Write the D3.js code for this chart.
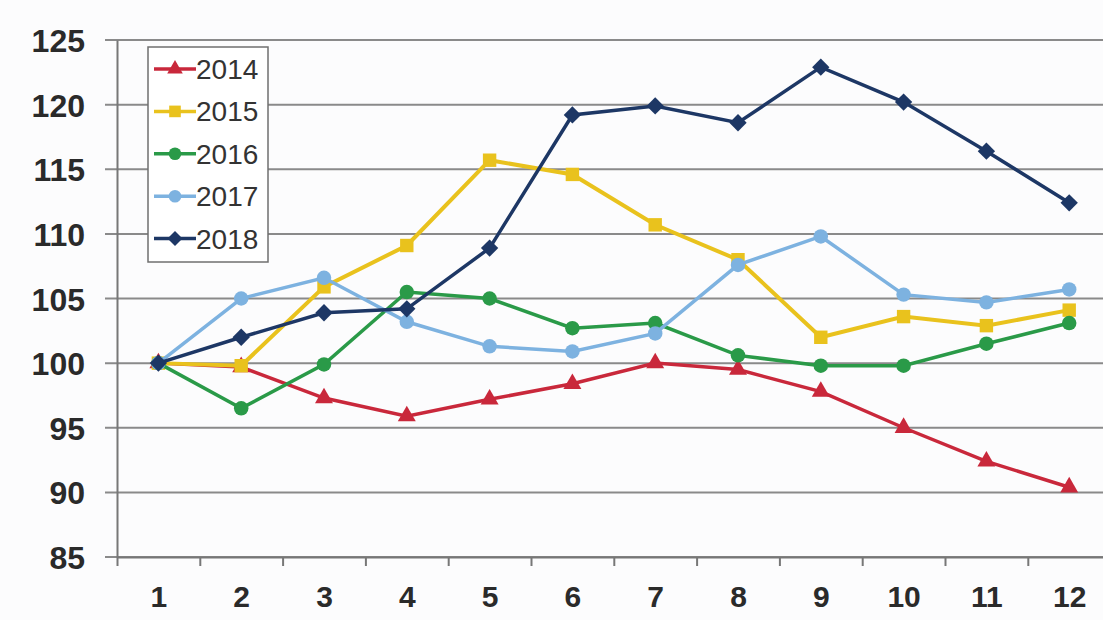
<!DOCTYPE html>
<html>
<head>
<meta charset="utf-8">
<script src="https://cdn.jsdelivr.net/npm/d3@7"></script>
<style>
  body { margin: 0; background: #fcfcfd; }
  svg { display: block; font-family: "Liberation Sans", Arial, sans-serif; }
</style>
</head>
<body>
<div id="chart"></div>
<script>
var months = [1, 2, 3, 4, 5, 6, 7, 8, 9, 10, 11, 12];
var years = ["2014", "2015", "2016", "2017", "2018"];
var yTicks = [85, 90, 95, 100, 105, 110, 115, 120, 125];

var v2014 = [100, 99.7, 97.3, 95.9, 97.2, 98.4, 100.0, 99.5, 97.8, 95.0, 92.4, 90.4];
var v2015 = [100, 99.8, 105.9, 109.1, 115.7, 114.6, 110.7, 108.0, 102.0, 103.6, 102.9, 104.1];
var v2016 = [100, 96.5, 99.9, 105.5, 105.0, 102.7, 103.1, 100.6, 99.8, 99.8, 101.5, 103.1];
var v2017 = [100, 105.0, 106.6, 103.2, 101.3, 100.9, 102.3, 107.6, 109.8, 105.3, 104.7, 105.7];
var v2018 = [100, 102.0, 103.9, 104.2, 108.9, 119.2, 119.9, 118.6, 122.9, 120.2, 116.4, 112.4];

var seriesValues = [v2014, v2015, v2016, v2017, v2018];
var colors = ["#c9283b", "#e9c21d", "#2a9a48", "#7db2e0", "#1d3765"];
var symbols = [d3.symbolTriangle, d3.symbolSquare, d3.symbolCircle, d3.symbolCircle, d3.symbolSquare];
var symbolSizes = [140, 180, 165, 165, 150];
var symbolRotate = [0, 0, 0, 0, 45];

var width = 1103;
var height = 620;
var axisX = 117;
var axisY = 557;

var svg = d3.select("#chart").append("svg")
    .attr("width", width)
    .attr("height", height);

var xScale = d3.scaleLinear()
    .domain([0.5, 12.5])
    .range([axisX, axisX + 12 * 82.8]);

var yScale = d3.scaleLinear()
    .domain([85, 125])
    .range([axisY, 40]);

// grid lines
svg.append("g")
    .selectAll("line")
    .data(yTicks)
    .enter()
    .append("line")
        .attr("x1", axisX - 12)
        .attr("x2", width)
        .attr("y1", function(d) { return yScale(d); })
        .attr("y2", function(d) { return yScale(d); })
        .attr("stroke", "#8a8a8a")
        .attr("stroke-width", 2);

// y axis
var yAxis = d3.axisLeft(yScale)
    .tickValues(yTicks)
    .tickSize(0)
    .tickPadding(32);

var yg = svg.append("g")
    .attr("transform", "translate(" + axisX + ",0)")
    .call(yAxis);
yg.select(".domain").attr("stroke", "#777").attr("stroke-width", 2);
yg.selectAll("text")
    .style("font-size", "32px")
    .style("font-weight", "bold")
    .attr("fill", "#2a2a2a")
    .attr("dy", "0.36em");

// x axis labels
var xAxis = d3.axisBottom(xScale)
    .tickValues(months)
    .tickSize(0)
    .tickPadding(29);

var xg = svg.append("g")
    .attr("transform", "translate(0," + axisY + ")")
    .call(xAxis);
xg.select(".domain").attr("stroke", "#777").attr("stroke-width", 2);
xg.selectAll("text")
    .style("font-size", "30px")
    .style("font-weight", "bold")
    .attr("fill", "#2a2a2a");

// x tick marks between categories
var xTickMarks = d3.axisBottom(xScale)
    .tickValues(months.map(function(m) { return m - 0.5; }))
    .tickSize(9)
    .tickFormat("");

var xt = svg.append("g")
    .attr("transform", "translate(0," + axisY + ")")
    .call(xTickMarks);
xt.select(".domain").remove();
xt.selectAll("line").attr("stroke", "#777").attr("stroke-width", 2);

// lines and markers
var line = d3.line()
    .x(function(d, i) { return xScale(months[i]); })
    .y(function(d) { return yScale(d); });

seriesValues.forEach(function(vals, s) {
    var g = svg.append("g").classed("series", true);
    g.append("path")
        .datum(vals)
        .attr("d", line)
        .attr("fill", "none")
        .attr("stroke", colors[s])
        .attr("stroke-width", s === 1 ? 4 : 3.5);
    g.selectAll("path.mark")
        .data(vals)
        .enter()
        .append("path")
            .classed("mark", true)
            .attr("d", d3.symbol().type(symbols[s]).size(symbolSizes[s]))
            .attr("transform", function(d, i) {
                return "translate(" + xScale(months[i]) + "," + yScale(d) + ") rotate(" + symbolRotate[s] + ")";
            })
            .attr("fill", colors[s]);
});

// legend
var legend = svg.append("g");
legend.append("rect")
    .attr("x", 148)
    .attr("y", 47)
    .attr("width", 120)
    .attr("height", 215)
    .attr("fill", "#ffffff")
    .attr("stroke", "#6f6f6f")
    .attr("stroke-width", 1.5);

var legendItems = legend.selectAll("g.item")
    .data(years)
    .enter()
    .append("g")
        .classed("item", true)
        .attr("transform", function(d, i) {
            return "translate(0," + (69 + i * 42.4) + ")";
        });

legendItems.append("line")
    .attr("x1", 154)
    .attr("x2", 196)
    .attr("stroke", function(d, i) { return colors[i]; })
    .attr("stroke-width", 3.5);

legendItems.append("path")
    .attr("d", function(d, i) {
        return d3.symbol().type(symbols[i]).size(symbolSizes[i] * 0.75)();
    })
    .attr("transform", function(d, i) { return "translate(175,0) rotate(" + symbolRotate[i] + ")"; })
    .attr("fill", function(d, i) { return colors[i]; });

legendItems.append("text")
    .attr("x", 196)
    .attr("y", 10)
    .text(function(d) { return d; })
    .style("font-size", "28px")
    .attr("fill", "#333");
</script>
</body>
</html>
